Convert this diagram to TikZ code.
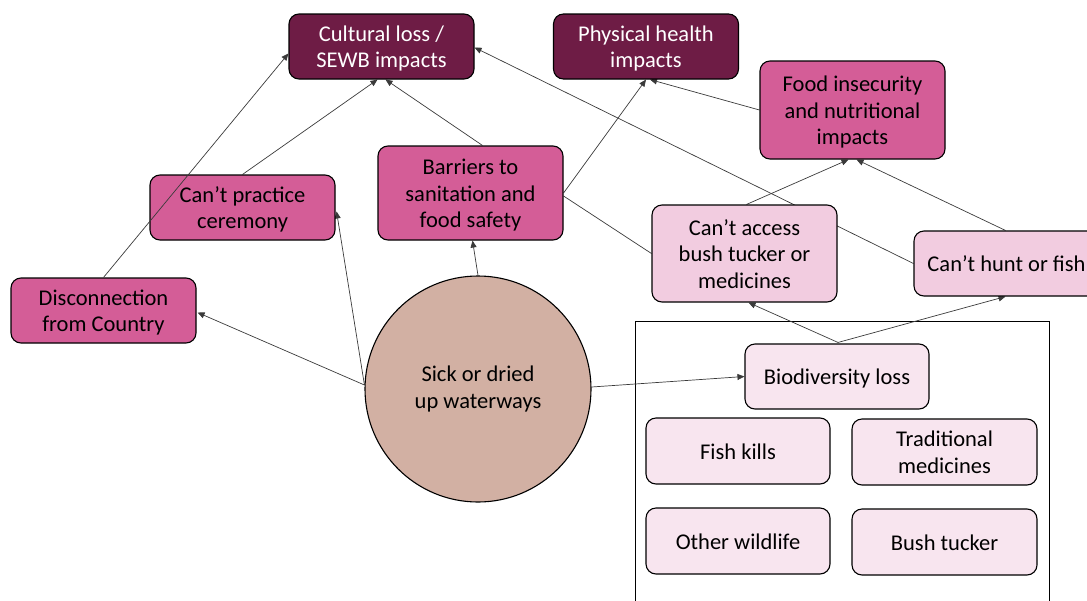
\documentclass[tikz,border=0pt]{standalone}
\usepackage{fontspec}
\setmainfont{Carlito}
\usetikzlibrary{arrows.meta,calc,backgrounds}
\definecolor{darkm}{HTML}{6E1C45}
\definecolor{pinkm}{HTML}{D45D97}
\definecolor{lightp}{HTML}{F2CCE0}
\definecolor{palep}{HTML}{F8E5EF}
\definecolor{circc}{HTML}{D2B0A3}
\definecolor{edgec}{HTML}{3A3A3A}
\newcommand\mytopstrut{\rule{0pt}{22pt}}
\newcommand\mybotstrut{\rule[-6pt]{0pt}{6pt}}
\begin{document}
\begin{tikzpicture}[x=1pt,y=-1pt,
  box/.style={draw=black,line width=1.1pt,rounded corners=10pt,align=center,
    font=\fontsize{22.5}{26.5}\selectfont,inner sep=2pt,minimum width=185pt},
  darkbox/.style={box,fill=darkm,text=white},
  pinkbox/.style={box,fill=pinkm,text=black},
  lightbox/.style={box,fill=lightp,text=black},
  palebox/.style={box,fill=palep,text=black},
  conn/.style={draw=edgec,line width=0.7pt},
  arr/.style={conn,-{Triangle[length=7pt,width=6pt]}}]
\useasboundingbox (0,0) rectangle (1087,600);
% nodes
\node[darkbox,minimum height=65pt] (cult) at (381.5,46.5) {\mytopstrut Cultural loss /\\SEWB impacts\mybotstrut};
\node[darkbox,minimum height=65pt] (phys) at (646,46.5) {\mytopstrut Physical health\\impacts\mybotstrut};
\node[pinkbox,minimum height=98pt] (food) at (852.5,110) {\mytopstrut Food insecurity\\and nutritional\\impacts\mybotstrut};
\node[pinkbox,minimum height=94pt] (barr) at (470.5,193) {\mytopstrut Barriers to\\sanitation and\\food safety\mybotstrut};
\node[pinkbox,minimum height=65pt] (cere) at (242.5,207.5) {\mytopstrut Can’t practice\\ceremony\mybotstrut};
\node[pinkbox,minimum height=65pt] (disc) at (103.5,310.5) {\mytopstrut Disconnection\\from Country\mybotstrut};
\node[lightbox,minimum height=97pt] (acc) at (744.5,253.5) {\mytopstrut Can’t access\\bush tucker or\\medicines\mybotstrut};
\node[lightbox,minimum height=65pt] (hunt) at (1006.5,263.5) {\mytopstrut Can’t hunt or fish\mybotstrut};
\node[draw=black,line width=1.1pt,fill=circc,circle,minimum size=226pt,inner sep=0pt,
  align=center,font=\fontsize{22.5}{26.5}\selectfont] (circ) at (478,389) {Sick or dried\\up waterways};
\node[palebox,minimum width=184pt,minimum height=65pt] (bio) at (837,376.5) {\mytopstrut Biodiversity loss\mybotstrut};
\node[palebox,minimum width=184pt,minimum height=66pt] (fish) at (738,451) {\mytopstrut Fish kills\mybotstrut};
\node[palebox,minimum height=66pt] (trad) at (944.5,452) {\mytopstrut Traditional\\medicines\mybotstrut};
\node[palebox,minimum width=184pt,minimum height=66pt] (wild) at (738,541) {\mytopstrut Other wildlife\mybotstrut};
\node[palebox,minimum height=66pt] (bush) at (944.5,542) {\mytopstrut Bush tucker\mybotstrut};
% connector drawn over the ceremony node
\draw[arr] (disc.north) -- ($(cult.west)+(0,7)$);
% connectors behind the nodes
\begin{scope}[on background layer]
\draw[black,line width=1pt] (635,321) rectangle (1049,620);
\draw[arr] (cere.north) -- ($(cult.south)+(-4,0)$);
\draw[arr] ($(barr.north)+(12,0)$) -- ($(cult.south)+(4,0)$);
\draw[arr] (hunt.west) -- ($(cult.east)+(0,1)$);
\draw[arr] (barr.east) -- (phys.south);
\draw[conn] ($(barr.east)+(0,3)$) -- (acc.west);
\draw[arr] (food.west) -- ($(phys.south)+(4,0)$);
\draw[arr] ($(acc.north)+(2,0)$) -- ($(food.south)+(-4,0)$);
\draw[arr] ($(hunt.north)+(-1,0)$) -- ($(food.south)+(4,0)$);
\draw[arr] ($(bio.north)+(1,-1)$) -- ($(acc.south)+(4,0)$);
\draw[arr] ($(bio.north)+(1,-1)$) -- ($(hunt.south)+(-1,0)$);
\draw[arr] (circ.north) -- ($(barr.south)+(2,0)$);
\draw[arr] ($(circ.west)+(0,-4)$) -- ($(cere.east)+(1,4)$);
\draw[arr] ($(circ.west)+(0,-4)$) -- ($(disc.east)+(1,2)$);
\draw[arr] ($(circ.east)+(0,-2)$) -- (bio.west);
\end{scope}
\end{tikzpicture}
\end{document}
